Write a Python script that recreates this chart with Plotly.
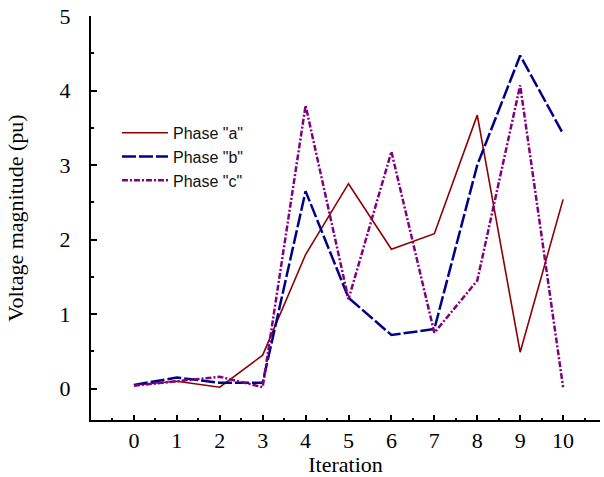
import plotly.graph_objects as go

iterations = [0, 1, 2, 3, 4, 5, 6, 7, 8, 9, 10]
phase_a = [0.05, 0.10, 0.02, 0.45, 1.80, 2.75, 1.87, 2.08, 3.67, 0.49, 2.54]
phase_b = [0.05, 0.15, 0.08, 0.08, 2.65, 1.22, 0.72, 0.80, 3.00, 4.47, 3.42]
phase_c = [0.04, 0.10, 0.16, 0.02, 3.80, 1.20, 3.18, 0.75, 1.45, 4.07, 0.02]
series_names = ['Phase "a"', 'Phase "b"', 'Phase "c"']

fig = go.Figure()
fig.add_trace(go.Scatter(x=iterations, y=phase_a, mode="lines", name=series_names[0],
                         line=dict(color="#8B0000", width=1.6)))
fig.add_trace(go.Scatter(x=iterations, y=phase_b, mode="lines", name=series_names[1],
                         line=dict(color="#00008B", width=2.5, dash="14px,3px")))
fig.add_trace(go.Scatter(x=iterations, y=phase_c, mode="lines", name=series_names[2],
                         line=dict(color="#800080", width=2.5, dash="6px,2px,2px,2px")))

serif = "Liberation Serif, Times New Roman, serif"
fig.update_layout(
    width=604, height=477,
    margin=dict(l=91, r=4, t=16, b=57),
    paper_bgcolor="white", plot_bgcolor="white",
    showlegend=True,
    legend=dict(x=0.051, y=0.753, xanchor="left", yanchor="top",
                font=dict(family="Liberation Sans, Arial, sans-serif", size=16, color="#111"),
                bgcolor="rgba(0,0,0,0)", tracegroupgap=0, itemwidth=46),
    font=dict(family=serif, color="black"),
)
fig.update_xaxes(
    range=[-1.0, 10.86], tickmode="array", tickvals=iterations,
    ticks="inside", ticklen=5, tickwidth=2, tickcolor="black",
    minor=dict(ticks="inside", ticklen=2, tickwidth=2, dtick=0.5, tick0=0, tickcolor="black"),
    showline=True, linecolor="black", linewidth=2, showgrid=False, zeroline=False,
    tickfont=dict(family=serif, size=22), ticklabelstandoff=0, automargin=False,
    title=dict(text="Iteration", font=dict(family=serif, size=22), standoff=0),
)
fig.update_yaxes(
    range=[-0.42, 5.0], tickmode="array", tickvals=[0, 1, 2, 3, 4, 5],
    ticks="inside", ticklen=6, tickwidth=2, tickcolor="black",
    minor=dict(ticks="inside", ticklen=3, tickwidth=2, dtick=0.5, tick0=0, tickcolor="black"),
    showline=True, linecolor="black", linewidth=2, showgrid=False, zeroline=False,
    tickfont=dict(family=serif, size=22), ticklabelstandoff=14, automargin=False,
    title=dict(text="Voltage magnitude (pu)", font=dict(family=serif, size=22), standoff=30),
)

fig.write_html("out.html", config={"displayModeBar": False},
               post_script="document.body.style.margin='0px';document.body.style.padding='0px';")
